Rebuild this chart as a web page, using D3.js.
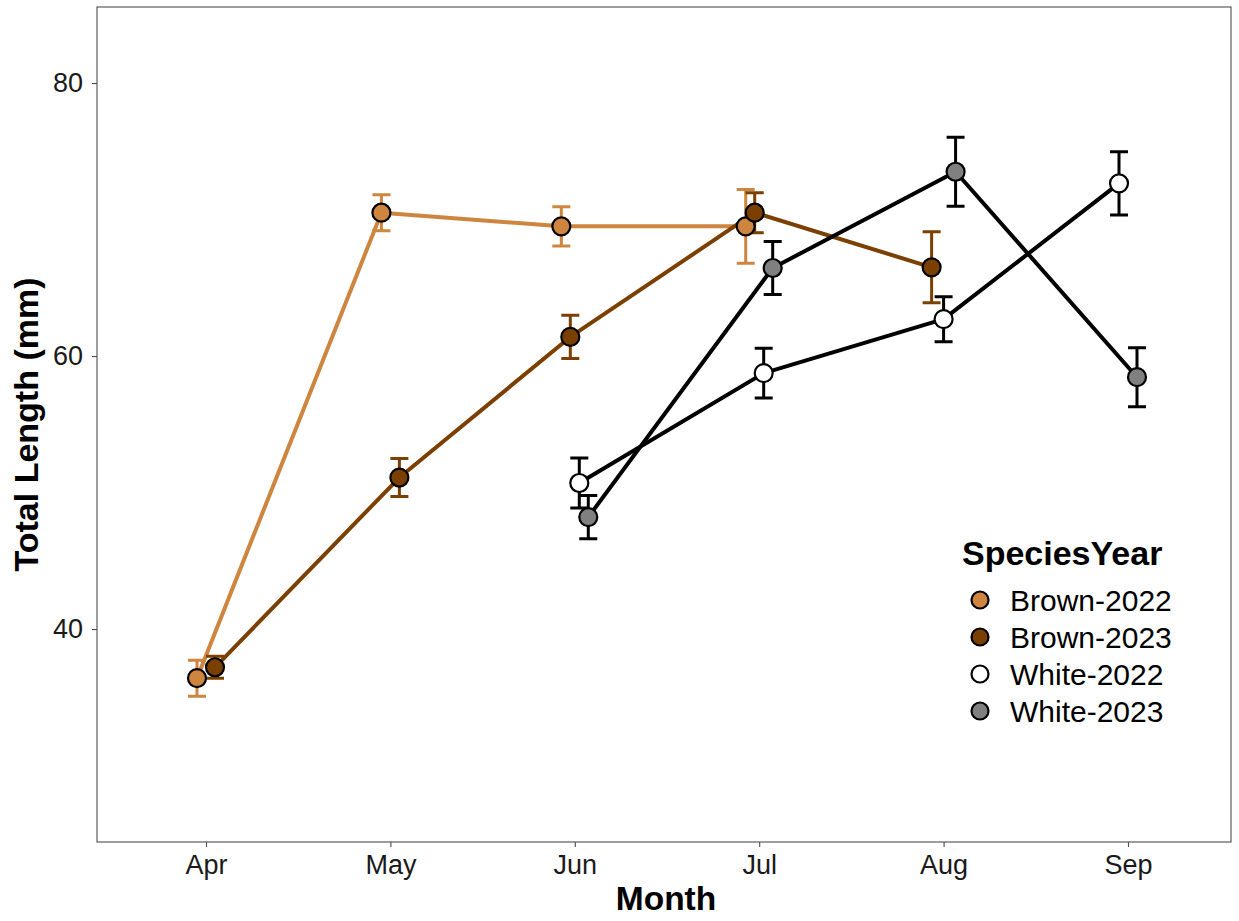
<!DOCTYPE html>
<html>
<head>
<meta charset="utf-8">
<script src="https://cdn.jsdelivr.net/npm/d3@7"></script>
<style>
  body { margin: 0; background: #fff; }
  svg { display: block; font-family: "Liberation Sans", Arial, sans-serif; }
</style>
</head>
<body>
<svg id="chart" width="1239" height="921"></svg>
<script>
// Monthly mean total length (mm) with standard error, by species and year
const months = ["Apr", "May", "Jun", "Jul", "Aug", "Sep"];
const seriesNames = ["Brown-2022", "Brown-2023", "White-2022", "White-2023"];

const brown2022Months = ["Apr", "May", "Jun", "Jul"];
const brown2022Mean = [36.4, 70.5, 69.5, 69.5];
const brown2022SE = [1.32, 1.32, 1.43, 2.7];

const brown2023Months = ["Apr", "May", "Jun", "Jul", "Aug"];
const brown2023Mean = [37.2, 51.1, 61.4, 70.5, 66.5];
const brown2023SE = [0.8, 1.39, 1.58, 1.47, 2.6];

const white2022Months = ["Jun", "Jul", "Aug", "Sep"];
const white2022Mean = [50.7, 58.75, 62.7, 72.65];
const white2022SE = [1.83, 1.83, 1.65, 2.31];

const white2023Months = ["Jun", "Jul", "Aug", "Sep"];
const white2023Mean = [48.2, 66.45, 73.5, 58.45];
const white2023SE = [1.58, 1.94, 2.53, 2.16];

const yTicks = [40, 60, 80];

const fillColors = ["#CD853F", "#7B3F00", "#FFFFFF", "#808080"];
const lineColors = ["#CD853F", "#7B3F00", "#000000", "#000000"];

const raw = [
  [brown2022Months, brown2022Mean, brown2022SE],
  [brown2023Months, brown2023Mean, brown2023SE],
  [white2022Months, white2022Mean, white2022SE],
  [white2023Months, white2023Mean, white2023SE]
];

const series = seriesNames.map((name, s) => ({
  name, s,
  points: raw[s][0].map((m, i) => ({ month: m, mean: raw[s][1][i], se: raw[s][2][i], s }))
}));

const svg = d3.select("#chart");
const panel = { left: 97, right: 1231, top: 7, bottom: 842 };

const x = d3.scalePoint().domain(months).range([206, 1128]);
const y = d3.scaleLinear().domain([24.4, 85.57]).range([panel.bottom, panel.top]);
const color = d3.scaleOrdinal().domain(seriesNames).range(fillColors);
const lineColor = d3.scaleOrdinal().domain(seriesNames).range(lineColors);

// position dodge: groups present at each month share a fixed total width
const dodgeWidth = 0.195 * x.step();
months.forEach(m => {
  const present = series.filter(sr => sr.points.some(p => p.month === m));
  const n = present.length;
  present.forEach((sr, k) => {
    const p = sr.points.find(p => p.month === m);
    p.dx = (k - (n - 1) / 2) * (dodgeWidth / n);
  });
});
const px = p => x(p.month) + p.dx;

// panel border
svg.append("rect")
  .attr("x", panel.left).attr("y", panel.top)
  .attr("width", panel.right - panel.left).attr("height", panel.bottom - panel.top)
  .attr("fill", "none").attr("stroke", "#4d4d4d").attr("stroke-width", 1.1);

// axes
const xAxis = svg.append("g").attr("transform", `translate(0,${panel.bottom})`)
  .call(d3.axisBottom(x).tickSize(5).tickPadding(8));
const yAxis = svg.append("g").attr("transform", `translate(${panel.left},0)`)
  .call(d3.axisLeft(y).tickValues(yTicks).tickSize(5).tickPadding(9));
[xAxis, yAxis].forEach(g => {
  g.select(".domain").remove();
  g.selectAll(".tick line").attr("stroke", "#4d4d4d").attr("stroke-width", 1.1);
  g.selectAll(".tick text").attr("fill", "#1a1a1a")
    .style("font-size", "27px").style("font-family", "Liberation Sans, Arial, sans-serif");
});

svg.append("text").attr("x", 666).attr("y", 910)
  .attr("text-anchor", "middle").attr("font-weight", "bold").attr("font-size", 33.5)
  .attr("fill", "#000").text("Month");
svg.append("text").attr("transform", `translate(38,${(panel.top + panel.bottom) / 2}) rotate(-90)`)
  .attr("text-anchor", "middle").attr("font-weight", "bold").attr("font-size", 34)
  .attr("fill", "#000").text("Total Length (mm)");

const plot = svg.append("g");

// connecting lines
const line = d3.line().x(px).y(p => y(p.mean));
plot.selectAll(".series-line").data(series).join("path")
  .attr("class", "series-line")
  .attr("d", d => line(d.points))
  .attr("fill", "none")
  .attr("stroke", d => lineColor(d.name))
  .attr("stroke-width", 4)
  .attr("stroke-linejoin", "round");

// error bars
const capHalf = 9;
series.forEach(sr => {
  const g = plot.append("g")
    .attr("stroke", lineColor(sr.name)).attr("stroke-width", 3).attr("fill", "none");
  sr.points.forEach(p => {
    const cx = px(p), yt = y(p.mean + p.se), yb = y(p.mean - p.se);
    g.append("path").attr("d",
      `M${cx - capHalf},${yt}H${cx + capHalf}M${cx},${yt}V${yb}M${cx - capHalf},${yb}H${cx + capHalf}`);
  });
});

// points
series.forEach(sr => {
  plot.append("g").selectAll("circle").data(sr.points).join("circle")
    .attr("cx", px).attr("cy", p => y(p.mean)).attr("r", 9)
    .attr("fill", color(sr.name)).attr("stroke", "#000").attr("stroke-width", 2.2);
});

// legend
const legend = svg.append("g").attr("transform", "translate(962,0)");
legend.append("text").attr("x", 0).attr("y", 565)
  .attr("font-weight", "bold").attr("font-size", 34).attr("fill", "#000").text("SpeciesYear");
seriesNames.forEach((name, i) => {
  const cy = 600 + i * 37;
  legend.append("circle").attr("cx", 18).attr("cy", cy).attr("r", 8.5)
    .attr("fill", color(name)).attr("stroke", "#000").attr("stroke-width", 2.2);
  legend.append("text").attr("x", 48).attr("y", cy).attr("dy", "0.36em")
    .attr("font-size", 30).attr("fill", "#000").text(name);
});
</script>
</body>
</html>
